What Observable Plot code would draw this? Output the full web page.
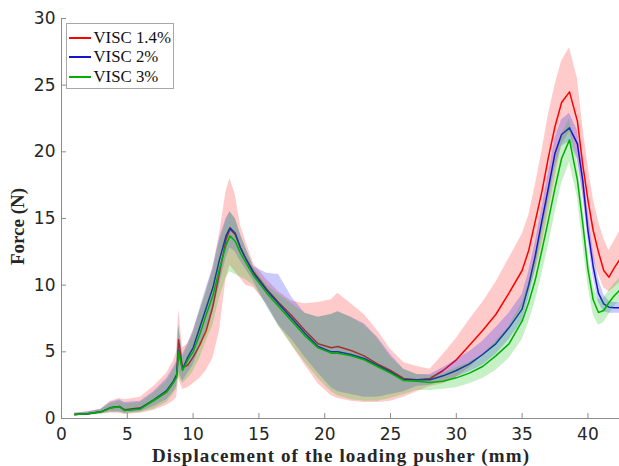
<!DOCTYPE html>
<html>
<head>
<meta charset="utf-8">
<script src="https://cdn.jsdelivr.net/npm/d3@7"></script>
<script src="https://cdn.jsdelivr.net/npm/@observablehq/plot@0.6"></script>
<style>
  html, body { margin: 0; padding: 0; background: #fff; }
  #wrap { position: relative; width: 619px; height: 466px; }
  #legend { position: absolute; left: 66px; top: 23px; width: 108px; box-sizing: border-box;
            border: 1px solid #a8a8a8; background: #fff; padding-top: 4px; padding-bottom: 1px;
            font-family: "Liberation Serif", serif; font-size: 16.8px; color: #111; white-space: nowrap; }
  .row { display: flex; align-items: center; height: 19.5px; }
  .sw { flex: none; width: 22px; height: 1.6px; margin-left: 1.5px; margin-right: 3px; }
</style>
</head>
<body>
<div id="wrap"></div>
<script>
// ---- data ----
const xs = [1.0, 2, 3, 3.7, 4.4, 4.8, 6, 7, 8, 8.5,
            8.75, 8.9, 9.2, 9.6, 10, 10.5, 11, 11.5, 12, 12.5,
            12.8, 13.2, 13.6, 14, 14.6, 15.6, 16.5, 17.5, 18.5, 19.5,
            20.5, 21, 22, 23, 24, 25, 26, 27, 28, 29,
            30, 31, 32, 33, 34, 35, 35.5, 36, 36.5, 37,
            37.5, 38, 38.6, 39.2, 39.6, 40, 40.4, 40.8, 41.2, 41.6, 42, 42.4];

const seriesNames = ["VISC 1.4%", "VISC 2%", "VISC 3%"];

const redMean = [0.3,0.35,0.5,0.8,0.9,0.65,0.8,1.35,2.0,2.7,
                 3.2,5.9,3.8,4.0,4.6,5.5,6.6,8.4,10.9,13.4,
                 14.2,13.8,12.8,12.0,11.0,9.7,8.7,7.7,6.6,5.6,
                 5.3,5.4,5.1,4.7,4.1,3.6,3.0,2.9,3.0,3.6,
                 4.4,5.5,6.6,7.8,9.4,11.1,12.6,14.8,17.0,19.6,
                 21.9,23.7,24.5,22.3,19.1,16.4,14.1,12.5,11.1,10.6,11.3,11.9];
const redLo = [0.2,0.25,0.35,0.4,0.4,0.3,0.4,0.6,1.0,1.3,
               1.6,3.0,2.2,2.3,2.6,3.0,3.6,4.5,6.5,10.5,
               11.5,11.0,10.5,10.0,9.8,8.6,7.0,5.5,4.0,2.6,
               1.7,1.5,1.3,1.2,1.2,1.3,1.6,2.0,2.4,2.6,
               3.1,3.8,4.7,5.6,6.8,8.3,9.5,11.0,13.0,15.5,
               18.0,20.5,21.5,19.5,17.0,14.0,12.0,10.8,9.8,9.5,9.8,10.2];
const redHi = [0.4,0.5,0.7,1.3,1.5,1.4,1.6,2.4,3.4,4.3,
               5.0,8.2,5.3,5.6,6.6,8.0,9.5,11.3,13.8,17.0,
               18.0,16.8,14.5,13.3,11.6,10.4,9.5,8.8,8.6,8.7,
               8.9,9.4,8.6,7.8,6.6,5.2,4.2,3.9,3.7,4.8,
               6.0,7.4,8.7,10.2,12.0,13.8,15.2,17.5,20.0,22.8,
               25.0,26.8,27.8,25.5,22.0,19.0,16.5,14.8,13.5,12.6,13.3,14.0];

const blueMean = [0.3,0.35,0.5,0.8,0.9,0.62,0.75,1.4,2.1,2.8,
                  3.3,5.1,3.7,4.6,5.3,6.8,8.3,9.8,11.9,13.7,
                  14.3,13.9,12.8,12.0,10.9,9.6,8.6,7.5,6.4,5.4,
                  5.0,5.0,4.8,4.5,4.0,3.5,2.9,2.9,2.9,3.2,
                  3.6,4.1,4.8,5.6,6.8,8.2,10.0,12.2,14.8,17.3,
                  19.9,21.3,21.8,20.6,17.9,14.1,11.4,9.4,8.6,8.35,8.3,8.3];
const blueLo = [0.2,0.25,0.35,0.5,0.5,0.4,0.5,0.9,1.4,2.0,
                2.4,3.5,2.8,3.4,4.0,5.3,6.6,8.0,10.0,12.0,
                12.8,12.5,11.8,11.2,10.3,8.4,7.0,5.9,4.6,3.4,
                2.3,2.0,1.8,1.6,1.6,1.8,2.0,2.4,2.5,2.8,
                3.1,3.5,4.0,4.8,5.9,7.3,9.0,11.2,13.8,16.3,
                18.8,20.4,20.8,19.4,16.8,13.4,10.6,8.7,8.0,7.9,7.9,7.9];
const blueHi = [0.4,0.5,0.7,1.2,1.4,1.2,1.3,2.0,3.0,3.8,
                4.3,7.0,4.8,5.6,6.5,8.2,9.8,11.3,13.5,15.0,
                15.5,15.0,13.8,12.8,11.4,10.9,10.8,9.1,7.9,7.6,
                7.8,8.0,7.6,7.1,6.1,4.8,3.7,3.3,3.3,3.8,
                4.4,5.0,5.8,6.8,7.9,9.3,11.0,13.2,15.8,18.4,
                21.0,22.4,22.9,21.6,18.9,15.6,12.6,10.5,9.3,8.8,8.7,8.7];

const greenMean = [0.3,0.35,0.5,0.78,0.88,0.6,0.72,1.35,2.0,2.7,
                   3.1,5.0,3.6,4.4,5.0,6.3,7.8,9.2,11.2,13.0,
                   13.7,13.3,12.4,11.7,10.7,9.4,8.4,7.3,6.2,5.3,
                   4.9,4.9,4.7,4.4,3.9,3.4,2.85,2.8,2.7,2.8,
                   3.05,3.4,3.9,4.7,5.6,7.3,8.7,10.4,12.6,14.9,
                   17.3,19.5,20.9,17.9,14.7,11.2,8.9,7.95,8.1,8.7,9.2,9.6];
const greenLo = [0.2,0.25,0.3,0.45,0.45,0.35,0.45,0.7,1.2,1.8,
                 2.2,3.2,2.6,3.0,3.5,4.5,5.8,7.0,9.0,10.5,
                 11.0,10.8,10.6,10.4,10.0,8.5,6.9,5.5,4.2,3.0,
                 2.0,1.7,1.4,1.3,1.3,1.5,1.8,2.1,2.1,2.2,
                 2.3,2.6,3.0,3.6,4.5,5.9,7.2,8.8,10.8,13.0,
                 15.4,17.6,19.2,16.6,13.2,10.0,7.8,7.0,7.2,7.8,8.4,8.8];
const greenHi = [0.4,0.45,0.65,1.1,1.3,1.1,1.2,1.9,2.8,3.6,
                 4.1,7.0,4.6,5.4,6.3,8.0,9.5,11.0,13.2,14.8,
                 15.5,15.0,13.8,12.8,11.3,10.0,9.3,8.6,7.9,7.6,
                 7.8,8.0,7.6,7.0,6.0,4.6,3.7,3.3,3.2,3.4,
                 3.8,4.2,4.8,5.8,6.9,8.7,10.2,12.0,14.4,16.8,
                 19.2,21.3,22.5,19.2,16.2,12.4,10.0,8.9,9.0,9.6,10.1,10.5];

const xTicks = [0, 5, 10, 15, 20, 25, 30, 35, 40];
const yTicks = [0, 5, 10, 15, 20, 25, 30];

// ---- chart ----
const series = [
  {name: seriesNames[0], line: "#ff0000", band: "#ff2020", mean: redMean, lo: redLo, hi: redHi},
  {name: seriesNames[1], line: "#1414c8", band: "#2020ff", mean: blueMean, lo: blueLo, hi: blueHi},
  {name: seriesNames[2], line: "#00b000", band: "#10c010", mean: greenMean, lo: greenLo, hi: greenHi}
];

const W = 619, H = 466, mL = 61, mR = 0, mT = 18, mB = 48;
const xMax = 42.4, yMax = 30;
const tickLen = 5;
const xTickLen = tickLen * yMax / (H - mT - mB);
const yTickLen = tickLen * xMax / (W - mL - mR);
const axisColor = "#8c8c8c";

const marks = [];
series.forEach(s => {
  const rows = xs.map((x, i) => ({x, y: s.mean[i], lo: s.lo[i], hi: s.hi[i]}));
  marks.push(Plot.areaY(rows, {x: "x", y1: "lo", y2: "hi", fill: s.band, fillOpacity: 0.24, clip: true}));
  marks.push(Plot.lineY(rows, {x: "x", y: "y", stroke: s.line, strokeWidth: 1.5, clip: true}));
});

marks.push(
  Plot.ruleY([0], {stroke: axisColor}),
  Plot.ruleX([0], {stroke: axisColor}),
  Plot.ruleX(xTicks, {x: d => d, y1: 0, y2: xTickLen, stroke: axisColor}),
  Plot.ruleY(yTicks, {y: d => d, x1: 0, x2: yTickLen, stroke: axisColor}),
  Plot.axisX(xTicks, {tickSize: 0, tickPadding: 9, fontSize: 17, fill: "#262626", label: null}),
  Plot.axisY(yTicks, {tickSize: 0, tickPadding: 6, fontSize: 17, fill: "#262626", label: null}),
  Plot.text(["Displacement of the loading pusher (mm)"], {text: d => d, frameAnchor: "bottom",
    textAnchor: "middle", lineAnchor: "middle", dy: 37,
    fontFamily: "Liberation Serif", fontWeight: "bold", fontSize: 19, fill: "#262626"}),
  Plot.text(["Force (N)"], {text: d => d, frameAnchor: "left", rotate: -90,
    textAnchor: "middle", lineAnchor: "middle", dx: -44, dy: 8,
    fontFamily: "Liberation Serif", fontWeight: "bold", fontSize: 19, fill: "#262626"})
);

const chart = Plot.plot({
  width: W, height: H,
  marginLeft: mL, marginRight: mR, marginTop: mT, marginBottom: mB,
  style: {fontFamily: "DejaVu Sans", background: "#fff", overflow: "visible"},
  x: {domain: [0, xMax]},
  y: {domain: [0, yMax]},
  marks
});

const wrap = document.getElementById("wrap");
wrap.appendChild(chart);

// stretch x-axis title to the reference width
d3.select(chart).selectAll("text")
  .filter(function() { return this.textContent === "Displacement of the loading pusher (mm)"; })
  .attr("textLength", 377).attr("lengthAdjust", "spacing");

// legend
const legend = document.createElement("div");
legend.id = "legend";
series.forEach(s => {
  const row = document.createElement("div");
  row.className = "row";
  const sw = document.createElement("div");
  sw.className = "sw";
  sw.style.background = s.line;
  const t = document.createElement("span");
  t.textContent = s.name;
  row.appendChild(sw); row.appendChild(t);
  legend.appendChild(row);
});
wrap.appendChild(legend);
</script>
</body>
</html>
